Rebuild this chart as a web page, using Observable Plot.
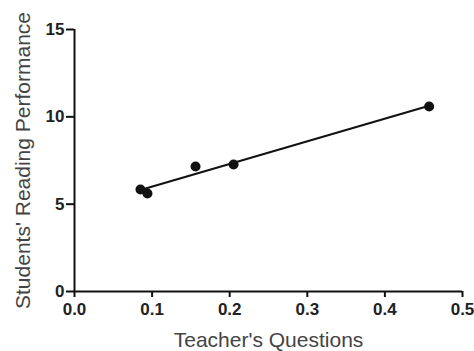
<!DOCTYPE html>
<html><head><meta charset="utf-8">
<script src="https://cdn.jsdelivr.net/npm/d3@7"></script>
<script src="https://cdn.jsdelivr.net/npm/@observablehq/plot@0.6"></script>
<style>body{margin:0;background:#fff;}</style>
</head><body><div id="chart"></div>
<script>
const teacherQuestions = [0.085, 0.094, 0.156, 0.205, 0.457];
const readingPerformance = [5.84, 5.61, 7.16, 7.27, 10.59];
const xTicks = [0, 0.1, 0.2, 0.3, 0.4, 0.5];
const yTicks = [0, 5, 10, 15];
const data = teacherQuestions.map((x, i) => ({x, y: readingPerformance[i]}));

const chart = Plot.plot({
  width: 474, height: 351,
  marginLeft: 74, marginRight: 12, marginTop: 29, marginBottom: 60,
  style: {fontFamily: "Liberation Sans, Arial, sans-serif", background: "#fff", color: "#111"},
  x: {domain: [0, 0.5]},
  y: {domain: [0, 15]},
  marks: [
    Plot.axisX({ticks: xTicks, tickFormat: d3.format(".1f"), tickSize: 6, tickPadding: 5, fontSize: 17, fontWeight: "bold", strokeWidth: 2, stroke: "#111", fill: "#222",
      label: null}),
    Plot.axisY({ticks: yTicks, tickSize: 8, tickPadding: 2, fontSize: 17, fontWeight: "bold", strokeWidth: 2, stroke: "#111", fill: "#222",
      label: null}),
    Plot.text(["Teacher's Questions"], {frameAnchor: "bottom", dy: 49, fontSize: 21, fill: "#444", lineAnchor: "middle", textAnchor: "middle"}),
    Plot.text(["Students' Reading Performance"], {frameAnchor: "left", dx: -51, rotate: -90, fontSize: 21, fill: "#444", lineAnchor: "middle", textAnchor: "middle"}),
    Plot.ruleX([0], {stroke: "#111", strokeWidth: 2}),
    Plot.ruleY([0], {stroke: "#111", strokeWidth: 2}),
    Plot.linearRegressionY(data, {x: "x", y: "y", ci: 0, stroke: "#111", strokeWidth: 2}),
    Plot.dot(data, {x: "x", y: "y", r: 5, fill: "#111", stroke: "none"})
  ]
});
document.getElementById("chart").appendChild(chart);
</script></body></html>
